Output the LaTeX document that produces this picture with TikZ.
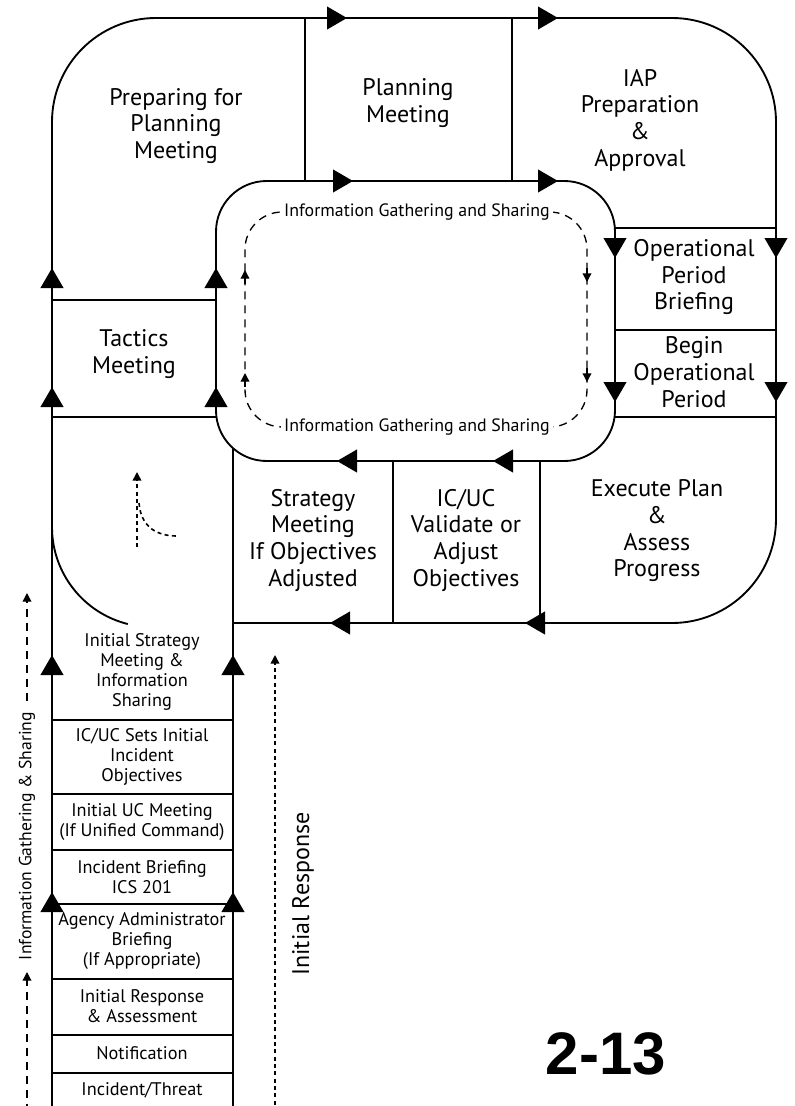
\documentclass[tikz,border=0pt]{standalone}
\usepackage{fontspec}
\setmainfont{PT Sans}
\newfontfamily\pagefont{Liberation Sans}
\usetikzlibrary{arrows.meta}
\tikzset{
  frame/.style={draw=black, line width=1.4pt, line join=round},
  flow/.style={-{Triangle[width=17pt,length=15pt]}, line width=1.4pt},
  gather/.style={draw=black, dash pattern=on 6pt off 4.5pt, line width=1pt},
  dots/.style={draw=black, dash pattern=on 3pt off 2.5pt, line width=1.2pt},
  ftip/.style={-{Triangle[width=6.5pt,length=6.5pt]}},
  big/.style={font=\fontsize{18}{20}\selectfont, align=center},
  box/.style={font=\fontsize{13.7}{15}\selectfont, align=center},
  info/.style={font=\fontsize{13.4}{15}\selectfont, fill=white, inner sep=2.5pt},
}
\begin{document}
\begin{tikzpicture}[x=0.75pt,y=-0.75pt]
  \useasboundingbox (0,0) rectangle (794,1106);

  % the two loops
  \draw[frame, rounded corners=78pt] (52,1112) -- (52,18) -- (776,18) -- (776,623) -- (233,623);
  \draw[frame, rounded corners=38pt] (216,181) rectangle (615,461);
  \draw[frame] (52,527) arc[start angle=180, end angle=104, radius=100];

  % dividers
  \draw[frame] (305,18) -- (305,181);
  \draw[frame] (512,18) -- (512,181);
  \draw[frame] (615,228) -- (776,228);
  \draw[frame] (615,330) -- (776,330);
  \draw[frame] (615,417) -- (776,417);
  \draw[frame] (393,461) -- (393,623);
  \draw[frame] (540,461) -- (540,623);
  \draw[frame] (52,300) -- (216,300);
  \draw[frame] (52,417) -- (216,417);
  \draw[frame] (233,448) -- (233,1112);
  \foreach \y in {720,794,850,904,979,1035,1073}
    \draw[frame] (52,\y) -- (233,\y);

  % flow arrows
  \foreach \x in {52,216} {
    \draw[flow] (\x,290) -- (\x,268);
    \draw[flow] (\x,409) -- (\x,387);
  }
  \foreach \x in {52,233} {
    \draw[flow] (\x,677) -- (\x,655);
    \draw[flow] (\x,914) -- (\x,892);
  }
  \draw[flow] (325,18) -- (347,18);
  \draw[flow] (536,18) -- (558,18);
  \draw[flow] (331,181) -- (353,181);
  \draw[flow] (536,181) -- (558,181);
  \foreach \x in {615,776} {
    \draw[flow] (\x,236) -- (\x,258);
    \draw[flow] (\x,380) -- (\x,402);
  }
  \draw[flow] (359,461) -- (337,461);
  \draw[flow] (515,461) -- (493,461);
  \draw[flow] (352,623) -- (330,623);
  \draw[flow] (547,623) -- (525,623);

  % information gathering loop
  \draw[gather, rounded corners=28pt] (245,212) rectangle (587,427);
  \draw[ftip, line width=1pt] (245,284) -- (245,270);
  \draw[ftip, line width=1pt] (245,387) -- (245,373);
  \draw[ftip, line width=1pt] (587,268) -- (587,282);
  \draw[ftip, line width=1pt] (587,368) -- (587,382);
  \node[info] (igtop) at (417,212) {Information Gathering and Sharing};
  \node[info] (igbot) at (417,427) {Information Gathering and Sharing};

  % small return hint
  \draw[dots] (139,503) .. controls (141,528) and (158,536) .. (177,536);
  \draw[dots, ftip] (137,547) -- (137,472);

  % side arrows
  \draw[gather, ftip] (27,1112) -- (27,972);
  \draw[gather, ftip] (27,701) -- (27,593);
  \node[rotate=90, font=\fontsize{13.2}{15}\selectfont] (igside) at (27,836) {Information Gathering \& Sharing};
  \draw[dots, ftip] (275,1112) -- (275,655);
  \node[rotate=90, font=\fontsize{18}{22}\selectfont] (initresp) at (303,894) {Initial Response};

  % cycle steps
  \node[big] (prep) at (176,126) {Preparing for\\Planning\\Meeting};
  \node[big] (planmtg) at (408,103) {Planning\\Meeting};
  \node[big] (iap) at (640,120) {IAP\\Preparation\\\&\\Approval};
  \node[big] (opbrief) at (694,277) {Operational\\Period\\Briefing};
  \node[big] (beginop) at (694,372) {Begin\\Operational\\Period};
  \node[big] (execute) at (657,531) {Execute Plan\\\&\\Assess\\Progress};
  \node[big] (validate) at (466,540) {IC/UC\\Validate or\\Adjust\\Objectives};
  \node[big] (strategy) at (313,540) {Strategy\\Meeting\\If Objectives\\Adjusted};
  \node[big] (tactics) at (134,354) {Tactics\\Meeting};

  % initial response steps
  \node[box] (initstrat) at (142,672) {Initial Strategy\\Meeting \&\\Information\\Sharing};
  \node[box] (setobj) at (142,757) {IC/UC Sets Initial\\Incident\\Objectives};
  \node[box] (ucmtg) at (142,822) {Initial UC Meeting\\(If Unified Command)};
  \node[box] (briefing) at (142,877) {Incident Briefing\\ICS 201};
  \node[box] (agency) at (142,941) {Agency Administrator\\Briefing\\(If Appropriate)};
  \node[box] (assess) at (142,1006) {Initial Response\\\& Assessment};
  \node[box] (notify) at (142,1053) {Notification};
  \node[box] (threat) at (142,1090) {Incident/Threat};

  \node[font=\pagefont\bfseries\fontsize{45}{50}\selectfont] (pageno) at (606,1054) {2-13};
\end{tikzpicture}
\end{document}
